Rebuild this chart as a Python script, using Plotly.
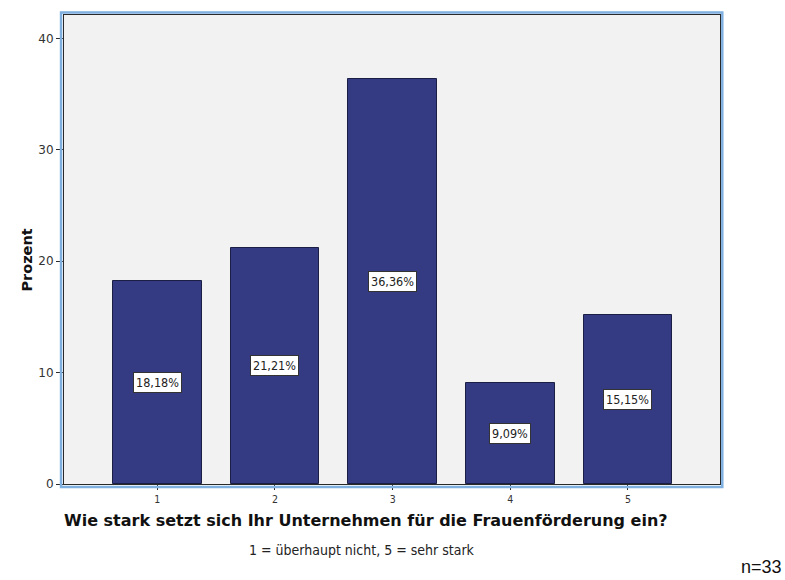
import plotly.graph_objects as go

# Antwortkategorien und Anteile in Prozent (n = 33)
categories = [1, 2, 3, 4, 5]
percent = [18.18, 21.21, 36.36, 9.09, 15.15]
tick_labels = ["1", "2", "3", "4", "5"]
y_ticks = [0, 10, 20, 30, 40]

bar_color = "#343b83"
plot_bg = "#f2f2f2"
frame_blue = "#7fb0e0"
dark_line = "#2a2a2a"

fig = go.Figure()
fig.add_trace(go.Bar(
    x=categories,
    y=percent,
    width=0.756,
    marker=dict(color=bar_color, line=dict(color="#1c1f45", width=1)),
    hoverinfo="x+y",
    showlegend=False,
))

# Wertebeschriftungen mittig im Balken, weiße Box mit dunklem Rahmen
for c, v in zip(categories, percent):
    fig.add_annotation(
        x=c, y=v / 2,
        text=f"{v:.2f}%".replace(".", ","),
        showarrow=False,
        font=dict(family="DejaVu Sans Condensed, DejaVu Sans", size=12.5, color="#222222"),
        bgcolor="white",
        bordercolor="#333333",
        borderwidth=1,
        borderpad=2,
    )

# Hellblauer Außenrahmen um den Diagrammbereich
fig.add_shape(
    type="rect", xref="paper", yref="paper",
    x0=-0.0045, x1=1.0035, y0=-0.0065, y1=1.0055,
    line=dict(color=frame_blue, width=2.5),
    fillcolor="rgba(0,0,0,0)",
    layer="above",
)

fig.add_annotation(
    xref="paper", yref="paper", x=-0.072, y=0.478,
    text="<b>Prozent</b>", textangle=-90, showarrow=False,
    font=dict(family="DejaVu Sans", size=14.5, color="#111111"),
)
fig.add_annotation(
    xref="paper", yref="paper", x=0.46, y=-0.078, yanchor="middle",
    text="<b>Wie stark setzt sich Ihr Unternehmen für die Frauenförderung ein?</b>",
    showarrow=False,
    font=dict(family="DejaVu Sans", size=16, color="#111111"),
)
fig.add_annotation(
    xref="paper", yref="paper", x=0.454, y=-0.14, yanchor="middle",
    text="1 = überhaupt nicht, 5 = sehr stark",
    showarrow=False,
    font=dict(family="DejaVu Sans Condensed, DejaVu Sans", size=14, color="#222222"),
)
fig.add_annotation(
    xref="paper", yref="paper", x=1.098, y=-0.176, xanchor="right", yanchor="middle",
    text="n=33",
    showarrow=False,
    font=dict(family="Liberation Sans, Arial", size=18, color="#111111"),
)

fig.update_layout(
    width=785, height=580,
    margin=dict(l=64, r=65, t=15, b=95.5),
    paper_bgcolor="white",
    plot_bgcolor=plot_bg,
    bargap=0,
    xaxis=dict(
        range=[0.207, 5.782],
        tickmode="array", tickvals=categories, ticktext=tick_labels,
        ticks="outside", ticklen=5, tickcolor=dark_line, tickwidth=1,
        showline=True, linecolor=dark_line, linewidth=1, mirror=True,
        showgrid=False, zeroline=False,
        tickfont=dict(family="DejaVu Sans Condensed, DejaVu Sans", size=10.5, color="#333333"),
        fixedrange=True,
    ),
    yaxis=dict(
        range=[0, 42.1],
        tickmode="array", tickvals=y_ticks,
        ticks="outside", ticklen=7, tickcolor=dark_line, tickwidth=1,
        showline=True, linecolor=dark_line, linewidth=1, mirror=True,
        showgrid=False, zeroline=False,
        tickfont=dict(family="DejaVu Sans", size=12, color="#333333"),
        fixedrange=True,
    ),
)

fig.write_html("out.html")
